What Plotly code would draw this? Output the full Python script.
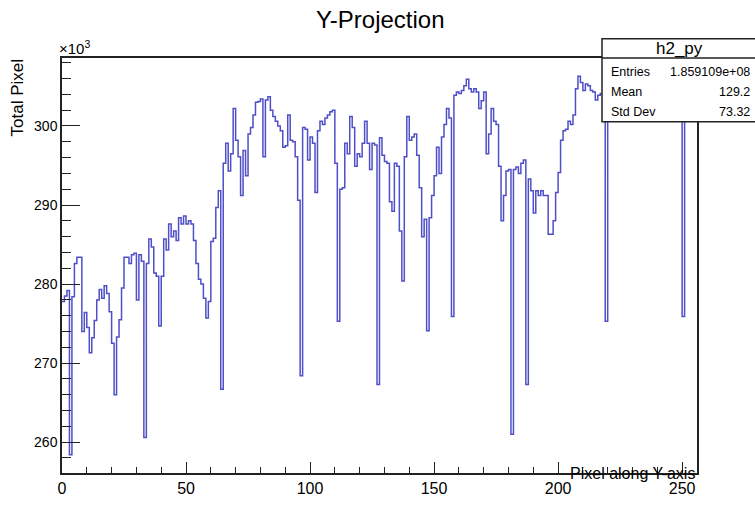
import numpy as np
import plotly.graph_objects as go

# Bin contents in units of 10^3 (256 bins, 0..256)
vals_000_049 = [277.8, 278.5, 279.2, 258.4, 278.4, 282.6, 283.4, 283.4, 274.0, 276.4,
                274.5, 271.3, 273.2, 275.4, 278.0, 279.3, 278.2, 279.8, 278.8, 276.5,
                272.5, 266.0, 273.3, 275.5, 279.5, 283.4, 283.4, 282.6, 283.7, 283.9,
                278.0, 283.7, 282.9, 260.6, 282.6, 285.7, 284.7, 281.4, 281.0, 274.7,
                281.0, 285.7, 284.3, 287.6, 286.0, 286.7, 285.5, 288.4, 287.6, 288.6]
vals_050_099 = [287.6, 288.0, 287.6, 285.5, 282.6, 280.6, 280.0, 278.2, 275.7, 277.8,
                285.4, 285.8, 289.7, 291.8, 266.7, 295.3, 297.8, 294.3, 296.5, 302.2,
                298.2, 296.1, 291.2, 296.9, 293.7, 299.0, 299.8, 301.4, 303.0, 303.1,
                303.4, 296.1, 303.3, 303.7, 302.0, 301.2, 300.6, 300.0, 299.4, 297.3,
                297.5, 301.4, 298.2, 298.0, 296.1, 290.6, 268.4, 299.8, 299.6, 295.7]
vals_100_149 = [298.6, 297.8, 291.6, 299.4, 300.6, 300.2, 301.0, 301.4, 301.8, 302.0,
                295.3, 275.3, 292.0, 292.2, 297.8, 296.5, 301.2, 299.8, 294.9, 296.5,
                296.1, 297.8, 300.6, 297.8, 294.5, 297.8, 297.6, 267.3, 298.5, 296.3,
                295.5, 295.3, 290.4, 289.2, 295.3, 294.9, 286.7, 280.4, 296.1, 301.2,
                298.2, 298.6, 299.0, 296.3, 292.2, 286.0, 288.2, 274.1, 288.4, 291.2]
vals_150_199 = [293.7, 297.3, 294.0, 298.6, 300.2, 302.2, 301.0, 275.9, 303.9, 304.3,
                304.1, 304.5, 305.1, 305.9, 304.7, 304.3, 304.7, 304.3, 302.2, 303.2,
                304.3, 296.5, 299.0, 302.2, 300.6, 300.2, 294.9, 288.0, 291.2, 294.3,
                294.5, 261.0, 294.5, 294.8, 294.0, 295.3, 295.7, 267.3, 293.3, 291.8,
                289.0, 291.8, 291.2, 291.8, 291.2, 291.2, 286.3, 286.3, 288.0, 291.6]
vals_200_255 = [294.1, 298.2, 299.4, 299.6, 300.6, 300.2, 301.4, 304.7, 306.3, 305.5,
                304.5, 305.3, 305.1, 304.5, 304.3, 303.3, 303.9, 304.1, 303.6, 275.3,
                303.8, 304.0, 303.5, 303.2, 303.8, 304.2, 303.9, 303.4, 303.0, 303.6,
                304.1, 303.8, 303.3, 303.7, 304.0, 303.5, 303.1, 303.6, 303.9, 303.4,
                303.0, 303.5, 303.8, 303.2, 303.6, 303.3, 303.7, 303.4, 303.2, 303.5,
                275.9, 303.2, 303.5, 303.0, 303.4, 303.1]

values = vals_000_049 + vals_050_099 + vals_100_149 + vals_150_199 + vals_200_255
nbins = len(values)
edges = np.arange(nbins + 1)
ys = values + [values[-1]]

x_ticks = [0, 50, 100, 150, 200, 250]
y_ticks = [260, 270, 280, 290, 300]

title_text = "Y-Projection"
x_title = "Pixel along Y-axis"
y_title = "Total Pixel"
stats_name = "h2_py"
stats_rows = [("Entries", "1.859109e+08"), ("Mean", "129.2"), ("Std Dev", "73.32")]

W, H = 755, 509
L, R, T, B = 62, 697, 58, 487

def px(x):
    return (x - L) / (R - L)

def py(y):
    return (B - y) / (B - T)

fig = go.Figure()
fig.add_trace(go.Scatter(x=edges, y=ys, mode="lines", line=dict(shape="hv", color="#4f4fc8", width=1.5),
                         hoverinfo="skip", showlegend=False))

font = "Liberation Sans, Arial, Helvetica, sans-serif"
fig.update_layout(
    width=W, height=H,
    margin=dict(l=L, r=W - R, t=T, b=H - B, pad=0),
    paper_bgcolor="white", plot_bgcolor="white",
    font=dict(family=font, color="black"),
    showlegend=False,
)
fig.update_xaxes(range=[0, nbins], tickvals=x_ticks, ticks="inside", ticklen=11, tickwidth=1.3,
                 tickcolor="#222", showline=True, linecolor="#222", linewidth=1.5, mirror=True,
                 showgrid=False, zeroline=False, tickfont=dict(size=16, family=font),
                 minor=dict(dtick=10, ticks="inside", ticklen=6, tickwidth=1.2, tickcolor="#222", showgrid=False))
fig.update_yaxes(range=[256.1, 308.6], tickvals=y_ticks, ticks="inside", ticklen=18, tickwidth=1.3,
                 tickcolor="#222", showline=True, linecolor="#222", linewidth=1.5, mirror=True,
                 showgrid=False, zeroline=False, tickfont=dict(size=14, family=font),
                 minor=dict(dtick=2, ticks="inside", ticklen=9, tickwidth=1.2, tickcolor="#222", showgrid=False))

ann = []
ann.append(dict(x=px(380), y=py(18), xref="paper", yref="paper", text=title_text, showarrow=False,
                xanchor="center", yanchor="middle", font=dict(size=24, family=font)))
ann.append(dict(x=px(57), y=py(47), xref="paper", yref="paper", text="×10<sup>3</sup>", showarrow=False,
                xanchor="left", yanchor="middle", font=dict(size=15, family=font)))
ann.append(dict(x=px(17), y=py(58), xref="paper", yref="paper", text=y_title, showarrow=False, textangle=-90,
                xanchor="center", yanchor="top", font=dict(size=17, family=font)))
ann.append(dict(x=px(697), y=py(487), xref="paper", yref="paper", text=x_title, showarrow=False,
                xanchor="right", yanchor="middle", font=dict(size=16, family=font)))

shapes = [
    dict(type="rect", xref="paper", yref="paper", x0=px(602), x1=px(757), y0=py(124), y1=py(38),
         fillcolor="white", line=dict(color="#222", width=1.5), layer="above"),
    dict(type="line", xref="paper", yref="paper", x0=px(602), x1=px(757), y0=py(58), y1=py(58),
         line=dict(color="#222", width=1.3), layer="above"),
]
ann.append(dict(x=px(679), y=py(48), xref="paper", yref="paper", text=stats_name, showarrow=False,
                xanchor="center", yanchor="middle", font=dict(size=17, family=font)))
row_y = [72, 93, 114]
for (lab, val), yy in zip(stats_rows, row_y):
    ann.append(dict(x=px(609), y=py(yy), xref="paper", yref="paper", text=lab, showarrow=False,
                    xanchor="left", yanchor="middle", font=dict(size=12.5, family=font)))
    ann.append(dict(x=px(752), y=py(yy), xref="paper", yref="paper", text=val, showarrow=False,
                    xanchor="right", yanchor="middle", font=dict(size=12.5, family=font)))

fig.update_layout(annotations=ann, shapes=shapes)
fig.write_html("out.html")
